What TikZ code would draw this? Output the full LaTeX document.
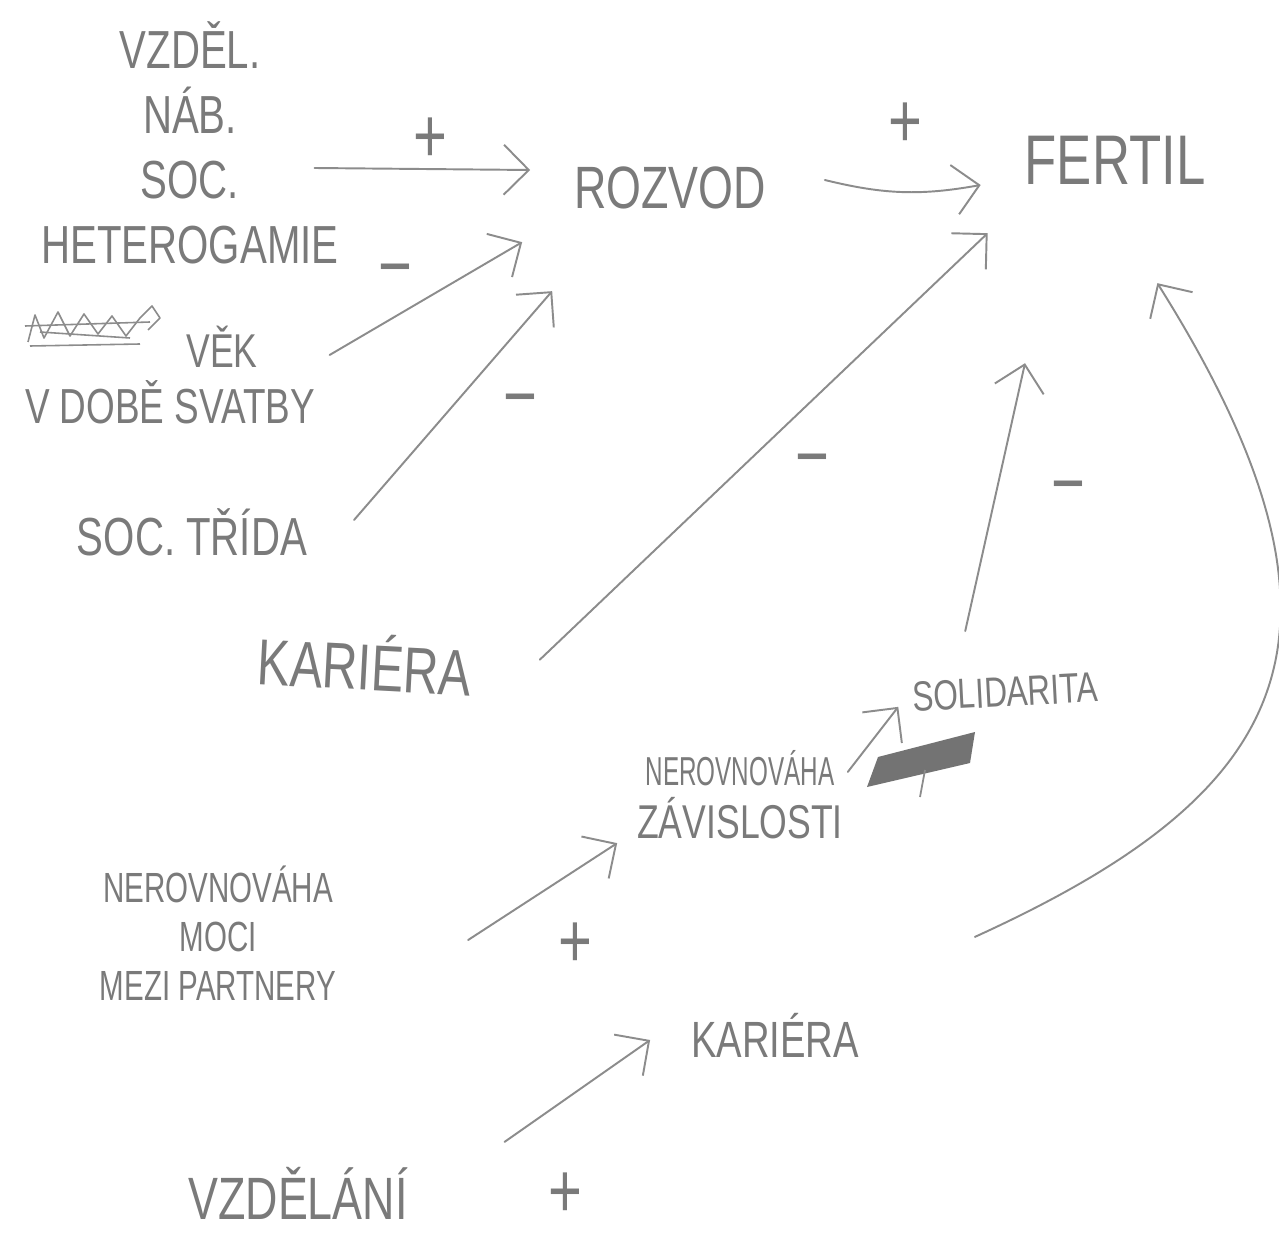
\documentclass[tikz,border=0pt]{standalone}
\usepackage{fontspec}
\setmainfont{Liberation Sans}[FakeStretch=0.75]
\usetikzlibrary{arrows.meta}
\definecolor{pencil}{gray}{0.48}
\definecolor{lead}{gray}{0.55}
\newcommand\pen[2]{\fontsize{#1}{#2}\selectfont}

\begin{document}
\begin{tikzpicture}[x=0.2mm, y=-0.2mm,
	every node/.style = {inner sep=0pt, outer sep=0pt, text=pencil, align=center},
	sign/.style = {font=\pen{44}{44}},
	arr/.style = {draw=lead, line width=1.1pt, line cap=round, line join=round,
	  -{Straight Barb[length=5mm, width=10mm]}},
	]
  \useasboundingbox[fill=white] (0,0) rectangle (1279,1236);
  % upper part
  \node[font=\pen{30.5}{37}] (het) at (190,143) {VZDĚL.\\NÁB.\\SOC.\\HETEROGAMIE};
  \node[font=\pen{27}{27}] (vek) at (222,347) {VĚK};
  \node[font=\pen{28}{28}] (svatba) at (170,402) {V DOBĚ SVATBY};
  \node[font=\pen{30.5}{30.5}] (trida) at (192,532) {SOC. TŘÍDA};
  \node[font=\pen{37}{37}, rotate=-3] (kariera) at (365,662) {KARIÉRA};
  \node[font=\pen{34}{34}] (rozvod) at (670,188) {ROZVOD};
  \node[font=\pen{40}{40}] (fertil) at (1115,160) {FERTIL};
  % lower part
  \node[font=\pen{24}{24}, rotate=3] (solid) at (1005,692) {SOLIDARITA};
  \node[font=\pen{27}{30}] (zavis) at (740,795) {{\pen{23}{30}\addfontfeature{FakeStretch=0.6}NEROVNOVÁHA}\\ZÁVISLOSTI};
  \node[font=\pen{24}{28}\addfontfeature{FakeStretch=0.7}] (moc) at (218,933) {NEROVNOVÁHA\\MOCI\\MEZI PARTNERY};
  \node[font=\pen{29}{29}] (kariera2) at (775,1035) {KARIÉRA};
  \node[font=\pen{34}{34}] (vzdel) at (298,1193) {VZDĚLÁNÍ};
  % signs
  \node[sign] (p1) at (430,140) {+};
  \node[sign] (p2) at (905,125) {+};
  \node[sign] (m1) at (395,278) {−};
  \node[sign] (m2) at (520,408) {−};
  \node[sign] (m3) at (812,468) {−};
  \node[sign] (m4) at (1068,495) {−};
  \node[sign] (p3) at (575,945) {+};
  \node[sign] (p4) at (565,1195) {+};
  % arrows
  \draw[arr] ([shift={(-24,25)}]het.east) -- ([shift={(-44,-18)}]rozvod.west);
  \draw[arr] ([shift={(72,8)}]vek.east) -- ([shift={(-52,33)}]rozvod.south west);
  \draw[arr] ([shift={(47,-12)}]trida.east) -- ([shift={(-22,82)}]rozvod.south west);
  \draw[arr] ([shift={(59,-8)}]rozvod.east) to[bend right=12] ([shift={(-44,25)}]fertil.west);
  \draw[arr] ([shift={(68,-8)}]kariera.east) -- ([shift={(-37,49)}]fertil.south west);
  \draw[arr] ([shift={(-39,-46)}]solid.north) -- ([shift={(-90,179)}]fertil.south);
  \draw[arr] ([shift={(116,-76)}]kariera2.north east) .. controls (1284,796) and (1383,642) .. ([shift={(-48,99)}]fertil.south east);
  \draw[arr] ([shift={(5,21)}]zavis.north east) -- ([shift={(-14,10)}]solid.west);
  \draw[arr] ([shift={(132,7)}]moc.east) -- ([shift={(-20,4)}]zavis.south west);
  \draw[arr] ([shift={(97,-25)}]vzdel.north east) -- ([shift={(-41,5)}]kariera2.west);
  % crossed out word and patch
  \draw[lead, line width=0.9pt, line join=round] (28,342) -- (35,315) -- (44,338) -- (58,312) -- (70,336) -- (84,314) -- (98,334) -- (112,316) -- (126,336) -- (140,318) -- (152,306) -- (160,318) -- (148,330);
  \draw[lead, line width=0.9pt] (25,326) -- (150,322) (30,346) -- (140,344) (40,332) -- (130,338);
  \fill[black!55] (867,787) -- (878,757) -- (975,732) -- (970,763) -- cycle;
  \draw[lead, line width=1pt] (925,770) -- (920,797);
\end{tikzpicture}
\end{document}
